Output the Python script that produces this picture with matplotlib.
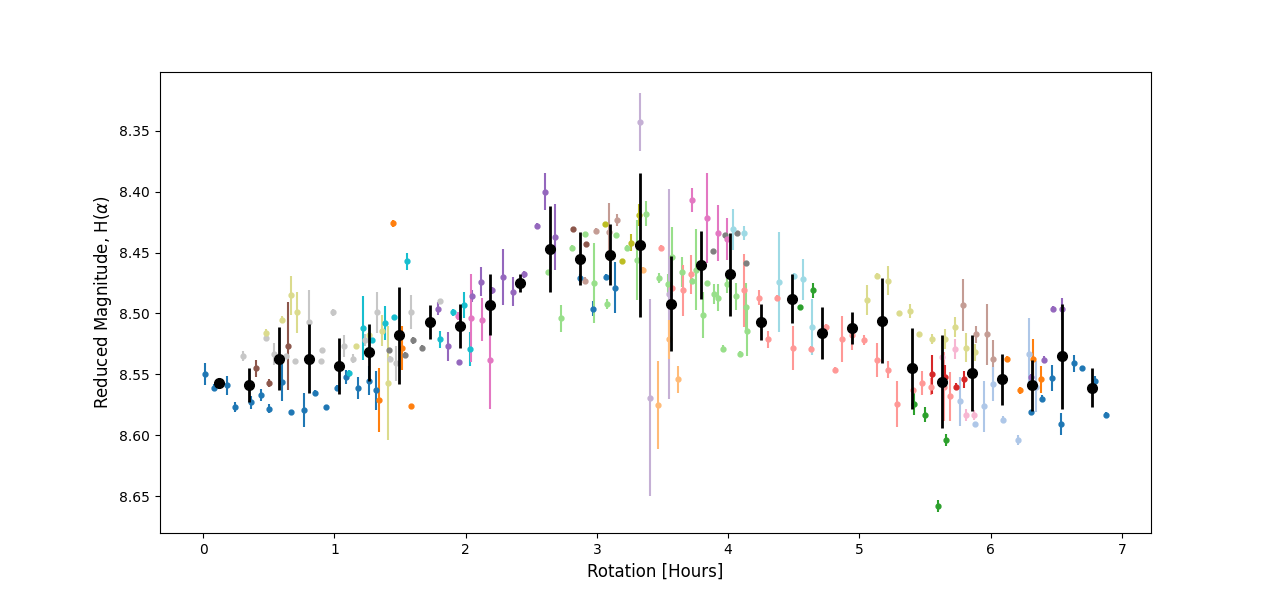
import numpy as np
import matplotlib
matplotlib.use("Agg")
import matplotlib.pyplot as plt

# individual measurements, grouped by colour (one group per data set)
blue_x = [0.013, 0.079, 0.178, 0.242, 0.361, 0.437, 0.498, 0.597, 0.666, 0.765, 0.849, 0.933, 1.016, 1.090,
          1.177, 1.260, 1.314, 2.869, 2.968, 3.068, 3.136, 6.308, 6.392, 6.468, 6.537, 6.636, 6.697, 6.796, 6.880]
blue_y = [8.550, 8.561, 8.559, 8.577, 8.573, 8.567, 8.578, 8.556, 8.581, 8.579, 8.565, 8.577, 8.561, 8.552,
          8.561, 8.555, 8.563, 8.471, 8.496, 8.470, 8.479, 8.581, 8.570, 8.553, 8.591, 8.541, 8.545, 8.555, 8.583]
blue_e = [0.009, 0.003, 0.008, 0.004, 0.005, 0.005, 0.004, 0.016, 0.002, 0.014, 0.002, 0.002, 0.002, 0.006,
          0.009, 0.012, 0.016, 0.003, 0.006, 0.002, 0.021, 0.002, 0.003, 0.011, 0.009, 0.007, 0.002, 0.004, 0.002]

lgray_x = [0.300, 0.475, 0.541, 0.628, 0.696, 0.808, 0.894, 0.902, 0.986, 1.070, 1.138, 1.230, 1.321, 1.421,
           1.466, 1.581, 1.805]
lgray_y = [8.535, 8.520, 8.533, 8.535, 8.539, 8.507, 8.539, 8.530, 8.499, 8.527, 8.537, 8.522, 8.499, 8.537,
           8.541, 8.499, 8.490]
lgray_e = [0.004, 0.003, 0.009, 0.002, 0.002, 0.026, 0.002, 0.002, 0.003, 0.009, 0.004, 0.005, 0.017, 0.002,
           0.014, 0.014, 0.002]

lolive_x = [0.480, 0.597, 0.666, 0.717, 1.161, 1.260, 1.360, 1.411, 5.058, 5.132, 5.218, 5.302, 5.386, 5.455,
            5.554, 5.653, 5.729, 5.813, 5.882]
lolive_y = [8.516, 8.505, 8.485, 8.499, 8.527, 8.518, 8.514, 8.557, 8.489, 8.469, 8.473, 8.500, 8.498, 8.517,
            8.521, 8.521, 8.511, 8.528, 8.532]
lolive_e = [0.003, 0.003, 0.016, 0.017, 0.002, 0.002, 0.013, 0.047, 0.012, 0.002, 0.012, 0.002, 0.006, 0.002,
            0.004, 0.008, 0.008, 0.012, 0.007]

brown_x = [0.399, 0.498, 0.643, 2.816, 2.915]
brown_y = [8.545, 8.557, 8.527, 8.431, 8.443]
brown_e = [0.007, 0.003, 0.036, 0.002, 0.002]

cyan_x = [1.113, 1.215, 1.283, 1.382, 1.451, 1.550, 1.802, 1.901, 1.985, 2.031]
cyan_y = [8.549, 8.512, 8.522, 8.508, 8.503, 8.457, 8.521, 8.499, 8.493, 8.529]
cyan_e = [0.003, 0.026, 0.002, 0.014, 0.002, 0.007, 0.007, 0.003, 0.011, 0.014]

orange_x = [1.337, 1.449, 1.512, 1.581, 6.125, 6.225, 6.324, 6.385]
orange_y = [8.571, 8.426, 8.528, 8.576, 8.537, 8.563, 8.537, 8.554]
orange_e = [0.026, 0.003, 0.018, 0.002, 0.002, 0.003, 0.016, 0.011]

gray_x = [1.413, 1.535, 1.596, 1.665, 3.884, 3.980, 4.067, 4.135]
gray_y = [8.530, 8.534, 8.522, 8.528, 8.449, 8.436, 8.434, 8.459]
gray_e = [0.002, 0.002, 0.003, 0.002, 0.002, 0.002, 0.002, 0.002]

purple_x = [1.787, 1.866, 1.947, 2.046, 2.115, 2.199, 2.283, 2.359, 2.442, 2.541, 2.608, 2.677,
            6.308, 6.407, 6.476, 6.545]
purple_y = [8.496, 8.527, 8.540, 8.486, 8.474, 8.481, 8.470, 8.482, 8.468, 8.428, 8.400, 8.437,
            8.552, 8.538, 8.496, 8.496]
purple_e = [0.005, 0.012, 0.002, 0.005, 0.012, 0.003, 0.023, 0.012, 0.003, 0.002, 0.015, 0.027,
            0.002, 0.003, 0.002, 0.009]

pink_x = [1.939, 2.038, 2.122, 2.189, 3.724, 3.838, 3.922, 3.988]
pink_y = [8.502, 8.504, 8.505, 8.538, 8.407, 8.422, 8.434, 8.439]
pink_e = [0.003, 0.036, 0.018, 0.040, 0.010, 0.037, 0.023, 0.017]

lgreen_x = [2.626, 2.725, 2.808, 2.908, 2.976, 3.075, 3.144, 3.228, 3.304, 3.373, 3.472, 3.541, 3.571,
            3.647, 3.724, 3.754, 3.807, 3.838, 3.891, 3.922, 3.960, 3.988, 4.059, 4.090, 4.135, 4.143]
lgreen_y = [8.466, 8.504, 8.446, 8.435, 8.475, 8.492, 8.436, 8.446, 8.456, 8.418, 8.471, 8.476, 8.454,
            8.466, 8.473, 8.464, 8.501, 8.475, 8.484, 8.487, 8.529, 8.476, 8.486, 8.533, 8.495, 8.514]
lgreen_e = [0.002, 0.011, 0.002, 0.002, 0.033, 0.004, 0.002, 0.002, 0.033, 0.010, 0.004, 0.008, 0.025,
            0.012, 0.002, 0.033, 0.019, 0.002, 0.008, 0.011, 0.003, 0.007, 0.011, 0.002, 0.020, 0.021]

lbrown_x = [2.908, 2.992, 3.091, 3.152, 5.790, 5.889, 5.973, 6.019]
lbrown_y = [8.473, 8.432, 8.433, 8.423, 8.493, 8.517, 8.517, 8.537]
lbrown_e = [0.003, 0.002, 0.024, 0.005, 0.021, 0.007, 0.025, 0.015]

olive_x = [3.060, 3.190, 3.258, 3.319]
olive_y = [8.427, 8.457, 8.442, 8.419]
olive_e = [0.002, 0.002, 0.007, 0.009]

lpurple_x = [3.327, 3.403, 3.553]
lpurple_y = [8.343, 8.569, 8.484]
lpurple_e = [0.024, 0.081, 0.086]

lorange_x = [3.350, 3.464, 3.548, 3.617]
lorange_y = [8.464, 8.575, 8.521, 8.554]
lorange_e = [0.002, 0.036, 0.016, 0.011]

lred_x = [3.487, 3.571, 3.655, 3.716, 4.120, 4.234, 4.303, 4.372, 4.494, 4.631, 4.745, 4.814, 4.867,
          4.944, 5.035, 5.134, 5.218, 5.287, 5.409, 5.477, 5.546, 5.645, 5.691]
lred_y = [8.446, 8.479, 8.481, 8.468, 8.481, 8.487, 8.521, 8.487, 8.528, 8.529, 8.511, 8.546, 8.521,
          8.518, 8.522, 8.538, 8.546, 8.574, 8.563, 8.557, 8.560, 8.560, 8.568]
lred_e = [0.002, 0.002, 0.021, 0.016, 0.030, 0.006, 0.007, 0.002, 0.018, 0.002, 0.002, 0.002, 0.019,
          0.012, 0.004, 0.014, 0.007, 0.019, 0.002, 0.010, 0.007, 0.028, 0.020]

lcyan_x = [4.036, 4.120, 4.387, 4.501, 4.570, 4.639]
lcyan_y = [8.431, 8.434, 8.474, 8.469, 8.472, 8.511]
lcyan_e = [0.017, 0.006, 0.041, 0.002, 0.017, 0.023]

green_x = [4.547, 4.646, 5.416, 5.500, 5.597, 5.660]
green_y = [8.495, 8.481, 8.574, 8.583, 8.658, 8.604]
green_e = [0.002, 0.006, 0.009, 0.006, 0.005, 0.005]

red_x = [5.554, 5.653, 5.737, 5.798]
red_y = [8.550, 8.552, 8.560, 8.554]
red_e = [0.016, 0.010, 0.003, 0.007]

lpink_x = [5.630, 5.729, 5.813, 5.874]
lpink_y = [8.536, 8.529, 8.583, 8.583]
lpink_e = [0.002, 0.008, 0.005, 0.004]

lblue_x = [5.767, 5.882, 5.950, 6.019, 6.095, 6.210, 6.293, 6.350]
lblue_y = [8.572, 8.591, 8.576, 8.558, 8.587, 8.604, 8.533, 8.560]
lblue_e = [0.020, 0.002, 0.021, 0.014, 0.003, 0.004, 0.029, 0.021]

# binned means
bin_x = [0.122, 0.351, 0.580, 0.808, 1.037, 1.266, 1.495, 1.731, 1.960, 2.188, 2.417, 2.646, 2.875, 3.103,
         3.332, 3.561, 3.790, 4.018, 4.247, 4.483, 4.712, 4.941, 5.170, 5.399, 5.628, 5.856, 6.085, 6.314,
         6.543, 6.771]
bin_y = [8.557, 8.559, 8.537, 8.537, 8.543, 8.532, 8.518, 8.507, 8.510, 8.493, 8.475, 8.447, 8.455, 8.452,
         8.444, 8.492, 8.460, 8.468, 8.507, 8.488, 8.516, 8.512, 8.506, 8.545, 8.556, 8.549, 8.554, 8.559,
         8.535, 8.561]
bin_e = [0.004, 0.014, 0.026, 0.028, 0.023, 0.023, 0.040, 0.014, 0.018, 0.025, 0.007, 0.035, 0.022, 0.025,
         0.059, 0.039, 0.028, 0.034, 0.015, 0.020, 0.021, 0.013, 0.035, 0.033, 0.038, 0.031, 0.021, 0.021,
         0.043, 0.016]

groups = [
    (blue_x, blue_y, blue_e, '#1f77b4'),
    (lgray_x, lgray_y, lgray_e, '#c7c7c7'),
    (lolive_x, lolive_y, lolive_e, '#dbdb8d'),
    (brown_x, brown_y, brown_e, '#8c564b'),
    (cyan_x, cyan_y, cyan_e, '#17becf'),
    (orange_x, orange_y, orange_e, '#ff7f0e'),
    (gray_x, gray_y, gray_e, '#7f7f7f'),
    (purple_x, purple_y, purple_e, '#9467bd'),
    (pink_x, pink_y, pink_e, '#e377c2'),
    (lgreen_x, lgreen_y, lgreen_e, '#98df8a'),
    (lbrown_x, lbrown_y, lbrown_e, '#c49c94'),
    (olive_x, olive_y, olive_e, '#bcbd22'),
    (lpurple_x, lpurple_y, lpurple_e, '#c5b0d5'),
    (lorange_x, lorange_y, lorange_e, '#ffbb78'),
    (lred_x, lred_y, lred_e, '#ff9896'),
    (lcyan_x, lcyan_y, lcyan_e, '#9edae5'),
    (green_x, green_y, green_e, '#2ca02c'),
    (red_x, red_y, red_e, '#d62728'),
    (lpink_x, lpink_y, lpink_e, '#f7b6d2'),
    (lblue_x, lblue_y, lblue_e, '#aec7e8'),
]

fig, ax = plt.subplots(figsize=(12.79, 5.99), dpi=100)

for x, y, e, c in groups:
    ax.errorbar(x, y, yerr=e, fmt='o', color=c, ms=3.5, elinewidth=1.5, capsize=0)

ax.errorbar(bin_x, bin_y, yerr=bin_e, fmt='o', color='black', ms=7, elinewidth=2, capsize=0, zorder=5)

ax.invert_yaxis()
ax.set_xlabel('Rotation [Hours]', fontsize=12)
ax.set_ylabel(r'Reduced Magnitude, H($\alpha$)', fontsize=12)

plt.savefig('out.png', dpi=100)
